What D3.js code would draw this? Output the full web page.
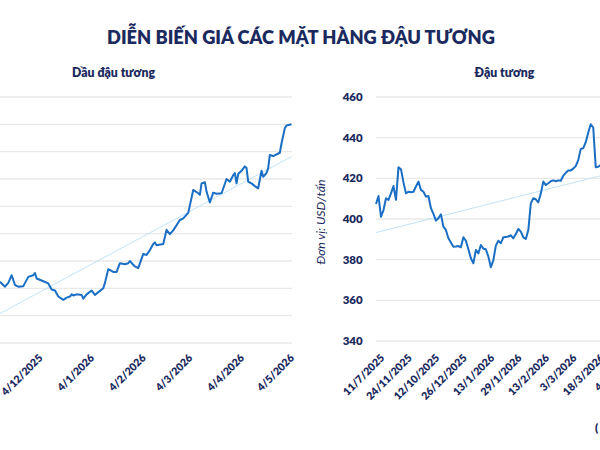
<!DOCTYPE html>
<html>
<head>
<meta charset="utf-8">
<script src="https://cdn.jsdelivr.net/npm/d3@7"></script>
<style>
  html, body { margin: 0; padding: 0; background: #ffffff; }
  svg { display: block; }
  text { font-family: Lato, "Open Sans", "Noto Sans", sans-serif; }
</style>
</head>
<body>
<svg id="chart" width="600" height="450"></svg>
<script>
// ---------- DATA ----------
const chartTitle = "DIỄN BIẾN GIÁ CÁC MẶT HÀNG ĐẬU TƯƠNG";
const leftTitle = "Dầu đậu tương";
const rightTitle = "Đậu tương";
const rightAxisTitle = "Đơn vị: USD/tấn";
const sourceNote = "(";

// Soybean oil (left panel) – daily closes
const leftDates = ["2025-11-09","2025-11-12","2025-11-14","2025-11-16","2025-11-18","2025-11-20","2025-11-23","2025-11-26","2025-11-29","2025-11-30",
  "2025-12-01","2025-12-05","2025-12-08","2025-12-10","2025-12-12","2025-12-14","2025-12-17","2025-12-19","2025-12-21","2025-12-22",
  "2025-12-23","2025-12-25","2025-12-28","2025-12-29","2025-12-31","2026-01-03","2026-01-05","2026-01-10","2026-01-11","2026-01-13",
  "2026-01-16","2026-01-18","2026-01-20","2026-01-23","2026-01-25","2026-01-26","2026-01-28","2026-01-29","2026-01-31","2026-02-03",
  "2026-02-05","2026-02-07","2026-02-09","2026-02-10","2026-02-11","2026-02-15","2026-02-17","2026-02-19","2026-02-21","2026-02-25",
  "2026-02-27","2026-03-02","2026-03-05","2026-03-08","2026-03-09","2026-03-10","2026-03-12","2026-03-13","2026-03-15","2026-03-17",
  "2026-03-19","2026-03-22","2026-03-25","2026-03-27","2026-03-29","2026-03-30","2026-03-31","2026-04-01","2026-04-03","2026-04-05",
  "2026-04-06","2026-04-07","2026-04-09","2026-04-11","2026-04-13","2026-04-15","2026-04-16","2026-04-18","2026-04-19","2026-04-20",
  "2026-04-22","2026-04-26","2026-04-27","2026-04-29","2026-04-30","2026-05-03"];
const leftValues = [1112,1103,1110,1124,1106,1103,1104,1121,1124,1128,
  1118,1113,1109,1098,1096,1085,1079,1083,1085,1089,
  1087,1089,1088,1081,1089,1096,1088,1100,1110,1135,
  1130,1130,1146,1144,1146,1150,1143,1140,1137,1163,
  1161,1170,1181,1184,1179,1181,1207,1199,1206,1225,
  1228,1238,1280,1274,1271,1292,1294,1277,1257,1275,
  1273,1274,1300,1295,1307,1311,1292,1309,1315,1323,
  1320,1295,1292,1287,1283,1315,1304,1311,1320,1344,
  1342,1348,1365,1393,1398,1400];
const leftTrendDates = ["2025-11-09","2026-05-03"];
const leftTrendValues = [1054, 1341];
const leftGridValues = [1000,1050,1100,1150,1200,1250,1300,1350,1400,1450];
const leftTickDates = ["2025-12-04","2026-01-04","2026-02-04","2026-03-04","2026-04-04","2026-05-04"];

// Soybeans (right panel) – one value per trading session
const rightValues = [407.4,411.3,401.1,404.4,410.2,409.4,412.6,416.2,409.4,425.4,
  424.5,418.0,412.6,413.4,413.2,413.4,416.0,418.4,414.3,413.4,
  411.0,411.3,405.3,402.5,399.2,400.4,402.3,396.2,394.6,390.5,
  388.4,386.4,386.5,386.7,386.1,391.0,389.3,385.1,380.7,378.2,
  384.8,383.1,387.2,385.4,385.1,381.5,376.3,379.8,386.9,389.3,
  388.1,391.0,391.2,391.4,392.0,390.5,392.6,395.1,393.8,391.0,
  390.2,394.6,407.7,410.2,409.7,408.2,412.5,418.4,416.7,417.6,
  418.6,419.0,418.6,419.0,418.8,421.3,422.7,423.8,423.9,424.8,
  426.0,429.0,434.5,434.8,437.8,442.5,446.6,445.0,425.5,425.7,
  426.6,427.0];
const rightTickLabels = ["11/7/2025","24/11/2025","12/10/2025","26/12/2025","13/1/2026","29/1/2026","13/2/2026","3/3/2026","18/3/2026","4/2/2026"];
const rightFirstLabelIndex = 3;
const rightLabelEvery = 11;
const rightTrendIndex = [0, 91];
const rightTrendValues = [393.3, 421.6];
const rightYTicks = [340,360,380,400,420,440,460];

// ---------- STYLE ----------
const navy = "#1b2a5e";
const lineBlue = "#1a6ec4";
const trendBlue = "#c2e3f6";
const gridGray = "#e9e9e9";
const heavy = 800;

const svg = d3.select("#chart");
const parse = d3.utcParse("%Y-%m-%d");

// size a font so that a sample string reaches a target length
function fitSize(sample, target, weight, style) {
  const t = svg.append("text").attr("font-size", 20)
    .attr("font-weight", weight || "normal").attr("font-style", style || "normal").text(sample);
  const len = t.node().getComputedTextLength();
  t.remove();
  return 20 * target / len;
}
const titleSize = fitSize(chartTitle, 388, heavy);
const subSize = fitSize(leftTitle, 83, heavy);
const ySize = fitSize("460", 20, heavy);
const tickSize = fitSize("4/1/2026", 47, heavy);
const axisTitleSize = fitSize(rightAxisTitle, 85, "normal", "italic");

// Title
svg.append("text").attr("x", 301).attr("y", 44).attr("text-anchor", "middle")
  .attr("font-size", titleSize).attr("font-weight", heavy).attr("fill", navy).text(chartTitle);

// ---------- LEFT PANEL ----------
const left = parse(leftDates[0]), right = parse(leftDates[leftDates.length - 1]);
const xL = d3.scaleUtc().domain([left, right]).range([0, 291.5]);
const yL = d3.scaleLinear().domain([1000, 1450]).range([343, 97]);

svg.append("text").attr("x", 113.5).attr("y", 77).attr("text-anchor", "middle")
  .attr("font-size", subSize).attr("font-weight", heavy).attr("fill", navy).text(leftTitle);

const gL = svg.append("g");
gL.selectAll("line.grid").data(leftGridValues).join("line").attr("class", "grid")
  .attr("x1", 0).attr("x2", 292).attr("y1", d => yL(d)).attr("y2", d => yL(d))
  .attr("stroke", gridGray).attr("stroke-width", 1.3);

gL.append("path")
  .attr("d", d3.line().x((d, i) => xL(parse(leftTrendDates[i]))).y(d => yL(d))(leftTrendValues))
  .attr("fill", "none").attr("stroke", trendBlue).attr("stroke-width", 1);

gL.append("path")
  .attr("d", d3.line().x((d, i) => xL(parse(leftDates[i]))).y(d => yL(d))(leftValues))
  .attr("fill", "none").attr("stroke", lineBlue).attr("stroke-width", 2).attr("stroke-linejoin", "round");

const fmt = d3.utcFormat("%-d/%-m/%Y");
gL.selectAll("text.tick").data(leftTickDates).join("text").attr("class", "tick")
  .attr("transform", d => `translate(${xL(parse(d)) - 1},356) rotate(-45)`)
  .attr("text-anchor", "end").attr("dy", "0.35em")
  .attr("font-size", tickSize).attr("font-weight", heavy).attr("fill", navy)
  .text(d => fmt(parse(d)));

// ---------- RIGHT PANEL ----------
const xR = d3.scaleLinear().domain([0, 100]).range([376, 376 + 249.7]);
const yR = d3.scaleLinear().domain([340, 460]).range([341, 97]);

svg.append("text").attr("x", 504.5).attr("y", 77).attr("text-anchor", "middle")
  .attr("font-size", subSize).attr("font-weight", heavy).attr("fill", navy).text(rightTitle);

const gR = svg.append("g");
gR.selectAll("line.grid").data(rightYTicks).join("line").attr("class", "grid")
  .attr("x1", 376).attr("x2", 600).attr("y1", d => yR(d)).attr("y2", d => yR(d))
  .attr("stroke", gridGray).attr("stroke-width", 1.3);

gR.selectAll("text.ylab").data(rightYTicks).join("text").attr("class", "ylab")
  .attr("x", 362.7).attr("y", d => yR(d)).attr("dy", "0.35em").attr("text-anchor", "end")
  .attr("font-size", ySize).attr("font-weight", heavy).attr("fill", navy).text(d => d);

svg.append("text").attr("transform", "translate(325,222) rotate(-90)")
  .attr("text-anchor", "middle").attr("font-size", axisTitleSize).attr("font-style", "italic")
  .attr("fill", navy).text(rightAxisTitle);

gR.append("path")
  .attr("d", d3.line().x((d, i) => xR(rightTrendIndex[i])).y(d => yR(d))(rightTrendValues))
  .attr("fill", "none").attr("stroke", trendBlue).attr("stroke-width", 1);

gR.append("path")
  .attr("d", d3.line().x((d, i) => xR(i)).y(d => yR(d))(rightValues))
  .attr("fill", "none").attr("stroke", lineBlue).attr("stroke-width", 2).attr("stroke-linejoin", "round");

gR.selectAll("text.tick").data(rightTickLabels).join("text").attr("class", "tick")
  .attr("transform", (d, k) => `translate(${xR(rightFirstLabelIndex + k * rightLabelEvery) - 1},356) rotate(-45)`)
  .attr("text-anchor", "end").attr("dy", "0.35em")
  .attr("font-size", tickSize).attr("font-weight", heavy).attr("fill", navy)
  .text(d => d);

svg.append("text").attr("x", 595).attr("y", 432)
  .attr("font-size", ySize).attr("font-weight", heavy).attr("fill", navy).text(sourceNote);
</script>
</body>
</html>
